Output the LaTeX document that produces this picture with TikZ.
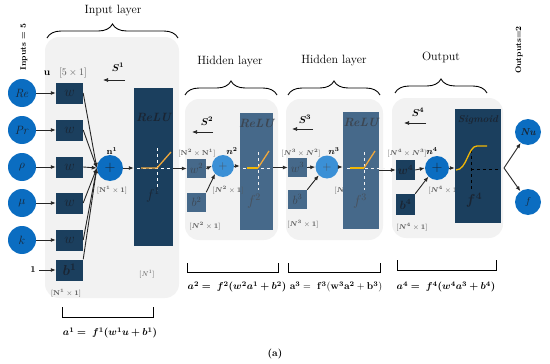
\documentclass[tikz,border=0pt]{standalone}
\usepackage{bm}
\usetikzlibrary{decorations.pathreplacing,arrows.meta,calc}
\definecolor{navy}{HTML}{1B3F5E}
\definecolor{navyL}{HTML}{46698A}
\definecolor{cblue}{HTML}{0B6DC1}
\definecolor{cblueL}{HTML}{3B90D6}
\definecolor{panelc}{HTML}{F2F2F2}
\definecolor{reluc}{HTML}{F0A83C}
\definecolor{sigc}{HTML}{F2B705}
\definecolor{dimc}{HTML}{555555}
\definecolor{txtd}{HTML}{1A2533}
\tikzset{
  panelbox/.style={fill=panelc, rounded corners=14pt},
  inc/.style={circle, fill=cblue, minimum size=28pt, inner sep=0pt, font=\large, text=txtd},
  outc/.style={circle, fill=cblue, minimum size=26pt, inner sep=0pt, font=\normalsize\bfseries\itshape, text=txtd},
  sumc/.style={circle, fill=cblue, minimum size=26pt, inner sep=0pt, font=\Large, text=txtd},
  sumL/.style={circle, fill=cblueL, minimum size=22pt, inner sep=0pt, font=\large, text=txtd!80},
  wbox/.style={fill=navy, minimum width=27pt, minimum height=21pt, inner sep=0pt, font=\Large, text=txtd},
  wboxL/.style={fill=navyL, minimum width=19pt, minimum height=19pt, inner sep=0pt, font=\large, text=txtd!85},
  wboxD/.style={fill=navy, minimum width=19pt, minimum height=20pt, inner sep=0pt, font=\large, text=txtd},
  actbox/.style={fill=navy, inner sep=0pt},
  actboxL/.style={fill=navyL, inner sep=0pt},
  arr/.style={-{Latex[length=5pt,width=4pt]}, line width=0.9pt, draw=black!85},
  dimlab/.style={font=\scriptsize, text=dimc, inner sep=1pt},
  toplab/.style={font=\large},
  tbrace/.style={decorate, decoration={brace, amplitude=14pt}, line width=0.9pt},
  bbrk/.style={line width=1pt},
  form/.style={font=\normalsize},
  slab/.style={font=\normalsize}
}
\begin{document}
\begin{tikzpicture}[x=1pt,y=-1pt]
\useasboundingbox (0,0) rectangle (550,364);

% panels
\fill[panelbox] (45,37) rectangle (179,298);
\fill[panelbox] (185,99) rectangle (278,240);
\fill[panelbox] (286,99) rectangle (383,240);
\fill[panelbox] (392,98) rectangle (503,238);

% top braces and titles
\node[toplab] (tin) at (113,11) {Input layer};
\draw[tbrace] (47,38) -- (178,38);
\node[toplab] (th1) at (230,62) {Hidden layer};
\draw[tbrace] (185,95) -- (277,95);
\node[toplab] (th2) at (334,61) {Hidden layer};
\draw[tbrace] (288,95) -- (380,95);
\node[toplab] (tout) at (441,57) {Output};
\draw[tbrace] (395,93) -- (487,93);

\node[rotate=90, font=\footnotesize\bfseries] (ninp) at (24,47) {Inputs = 5};
\node[rotate=90, font=\footnotesize\bfseries] (nout) at (519,50) {Outputs=2};

% ---------------- input layer ----------------
\node[inc] (re) at (22,93) {$\mathit{Re}$};
\node[inc] (pr) at (22,130) {$\mathit{Pr}$};
\node[inc] (rho) at (22,167) {$\rho$};
\node[inc] (mu) at (22,203) {$\mu$};
\node[inc] (kk) at (22,240) {$k$};
\node[font=\small\bfseries] (one) at (33,270) {1};

\node[wbox] (w1) at (69.5,93) {$w$};
\node[wbox] (w2) at (69.5,130) {$w$};
\node[wbox] (w3) at (69.5,167) {$w$};
\node[wbox] (w4) at (69.5,203) {$w$};
\node[wbox] (w5) at (69.5,240) {$w$};
\node[wbox] (b1) at (69.5,270) {$\bm{b^1}$};

\draw[arr] (re) -- (w1);
\draw[arr] (pr) -- (w2);
\draw[arr] (rho) -- (w3);
\draw[arr] (mu) -- (w4);
\draw[arr] (kk) -- (w5);
\draw[arr] (one) -- (b1);

\node[font=\normalsize] (ulab) at (47,73) {$\mathbf{u}$};
\node[font=\normalsize, text=dimc] (u51) at (73,73) {$[5\times 1]$};
\node[slab] (s1lab) at (118,67) {$\bm{S^1}$};
\coordinate (s1a) at (125,80);
\coordinate (s1b) at (103,80);
\draw[arr, line width=0.7pt] (s1a) -- (s1b);

\node[sumc] (s1) at (110,168) {$+$};
\node[font=\small] (n1) at (112,151) {$\mathbf{n^1}$};
\node[dimlab] (s1dim) at (112,190) {$[\mathbf{N^1}\times \mathbf{1}]$};

\draw[arr] (w1.east) -- (s1.west);
\draw[arr] (w2.east) -- (s1.west);
\draw[arr] (w3.east) -- (s1.west);
\draw[arr] (w4.east) -- (s1.west);
\draw[arr] (w5.east) -- (s1.west);
\draw[arr] (b1.north east) -- (s1.west);

\node[actbox, minimum width=39pt, minimum height=158pt] (r1) at (153.5,167) {};
\draw[arr] (s1.east) -- (s1.east -| r1.west);
\node[font=\large\bfseries\itshape, text=txtd] (r1t) at (153.5,117) {ReLU};
\draw[white, dashed, line width=1pt] (137,168) -- (172,168);
\draw[white, dashed, line width=1pt] (157,148) -- (157,190);
\draw[reluc, line width=1.3pt] (141,168) -- (157,168) -- (171,152);
\node[font=\Large, text=txtd] (f1) at (153,195) {$f^1$};

\node[dimlab] (rdim1) at (147,274) {$[N^1]$};
\node[dimlab] (bdim1) at (66,293) {$[\mathbf{N^1}\times \mathbf{1}]$};

\draw[bbrk] (62,307) -- (62,317) -- (153,317) -- (153,307);
\node[form] (fa1) at (110,333) {$\bm{a^1 = \ f^1(w^1u + b^1)}$};

% ---------------- hidden layer 1 ----------------
\node[wboxL] (w21) at (196.5,168.5) {$w^2$};
\node[wboxL] (b21) at (196.5,202) {$b^2$};
\node[sumL] (s2) at (223,166) {$+$};
\node[actboxL, minimum width=33pt, minimum height=117pt] (r2) at (256.5,171.5) {};
\node[font=\large\bfseries\itshape, text=txtd!85] (r2t) at (256.5,123) {ReLU};
\draw[white!90!gray, dashed, line width=1pt] (243,168) -- (279,168);
\draw[white!90!gray, dashed, line width=1pt] (258,152) -- (258,190);
\draw[sigc, line width=1.3pt] (247,168) -- (258,168);
\draw[reluc, line width=1.3pt] (258,168) -- (269,151);
\node[font=\Large, text=txtd!80] (f2) at (254,201) {$f^2$};

\node[slab] (s2lab) at (207,121) {$\bm{S^2}$};
\coordinate (s2a) at (213,132);
\coordinate (s2b) at (192,132);
\draw[arr, line width=0.7pt] (s2a) -- (s2b);
\node[dimlab] (w2dim) at (197,153) {$[\mathbf{N^2}\times \mathbf{N^1}]$};
\node[font=\small] (n2) at (232,151) {$\bm{n^2}$};
\node[dimlab] (s2dim) at (228,190) {$[\bm{N^2}\times \mathbf{1}]$};
\node[dimlab] (bdim2) at (205,226) {$[\bm{N^2}\times \mathbf{1}]$};

\draw[arr] (r1.east |- w21.west) -- (w21.west);
\draw[arr] (w21.east) -- (s2.west);
\draw[arr] (b21.north east) -- (s2.south west);
\draw[arr] (s2.east) -- (s2.east -| r2.west);

\draw[bbrk] (187,263) -- (187,272) -- (278,272) -- (278,263);
\node[form] (fa2) at (237,287) {$\bm{a^2 = \ f^2(w^2a^1 + b^2)}$};

% ---------------- hidden layer 2 ----------------
\node[wboxL] (w31) at (297.5,167.5) {$w^3$};
\node[wboxL] (b31) at (297.5,199.5) {$b^3$};
\node[dimlab] (s3dim) at (350,190) {$[\bm{N^3}\times \mathbf{1}]$};
\node[sumL, minimum size=23pt] (s3) at (327,167) {$+$};
\node[actboxL, minimum width=36pt, minimum height=117pt] (r3) at (361,170.5) {};
\node[font=\large\bfseries\itshape, text=txtd!85] (r3t) at (361,122) {ReLU};
\draw[white!90!gray, dashed, line width=1pt] (347,168) -- (385,168);
\draw[white!90!gray, dashed, line width=1pt] (364,152) -- (364,190);
\draw[sigc, line width=1.3pt] (350,168) -- (364,168);
\draw[reluc, line width=1.3pt] (364,168) -- (375,151);
\node[font=\Large, text=txtd!80] (f3) at (360,201) {$f^3$};

\node[slab] (s3lab) at (305,119) {$\bm{S^3}$};
\coordinate (s3a) at (313,129);
\coordinate (s3b) at (292,129);
\draw[arr, line width=0.7pt] (s3a) -- (s3b);
\node[dimlab] (w3dim) at (301,153) {$[\bm{N^3}\times \bm{N^2}]$};
\node[font=\small] (n3) at (334,151) {$\bm{n^3}$};
\node[dimlab] (bdim3) at (303,224) {$[\bm{N^3}\times \mathbf{1}]$};

\draw[arr] (r2.east |- w31.west) -- (w31.west);
\draw[arr] (w31.east) -- (s3.west);
\draw[arr] (b31.north east) -- (s3.south west);
\draw[arr] (s3.east) -- (s3.east -| r3.west);

\draw[bbrk] (288,263) -- (288,272) -- (380,272) -- (380,263);
\node[form] (fa3) at (336,287) {$\mathbf{a^3 = \ f^3(w^3a^2 + b^3)}$};

% ---------------- output layer ----------------
\node[wboxD] (w41) at (405.5,170) {$\bm{w^4}$};
\node[wboxD, minimum height=21pt] (b41) at (405.5,204.5) {$\bm{b^4}$};
\node[dimlab] (s4dim) at (444,190) {$[\bm{N^4}\times \mathbf{1}]$};
\node[sumc, minimum size=24pt] (s4) at (437,168) {$+$};
\node[actbox, minimum width=46pt, minimum height=114pt] (sg) at (478,166) {};
\node[font=\normalsize\bfseries\itshape, text=txtd] (sgt) at (478,120) {Sigmoid};
\draw[black, dashed, line width=0.9pt] (471,169) -- (498,169);
\draw[black, dashed, line width=0.9pt] (471,150) -- (471,190);
\draw[sigc, line width=1.3pt] (456,170) .. controls (467,170) and (468,146) .. (477,146) -- (487,146);
\node[font=\Large, text=txtd] (f4) at (474,200) {$\bm{f^4}$};

\node[slab] (s4lab) at (418,112) {$\bm{S^4}$};
\coordinate (s4a) at (426,123);
\coordinate (s4b) at (404,123);
\draw[arr, line width=0.7pt] (s4a) -- (s4b);
\node[dimlab] (w4dim) at (407,153) {$[\bm{N^4}\times \bm{N^3}]$};
\node[font=\small] (n4) at (432,151) {$\bm{n^4}$};
\node[dimlab] (bdim4) at (412,227) {$[\bm{N^4}\times \mathbf{1}]$};

\draw[arr] (r3.east |- w41.west) -- (w41.west);
\draw[arr] (w41.east) -- (s4.west);
\draw[arr] (b41.north east) -- (s4.south west);
\draw[arr] (s4.east) -- (s4.east -| sg.west);

\node[outc] (nu) at (528,132) {Nu};
\node[outc] (fo) at (528,202) {$f$};
\coordinate (vx) at (504,168);
\draw[arr] (vx) -- (nu);
\draw[arr] (vx) -- (fo);

\draw[bbrk] (397,260) -- (397,270) -- (496,270) -- (496,260);
\node[form] (fa4) at (446,287) {$\bm{a^4 = \ f^4(w^4a^3 + b^4)}$};

\node[font=\normalsize\bfseries] (cap) at (275,354) {(a)};
\end{tikzpicture}
\end{document}
